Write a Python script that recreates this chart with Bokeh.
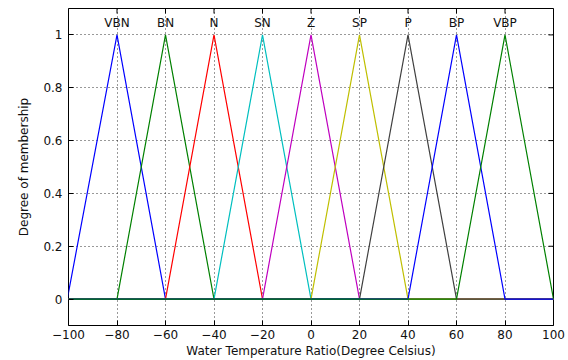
import math
from bokeh.plotting import figure
from bokeh.models import Range1d, FixedTicker, ColumnDataSource
from bokeh.embed import file_html
from bokeh.resources import INLINE
from bokeh.core.properties import value

# Membership function names and triangle parameters [left foot, peak, right foot]
mf_names = ["VBN", "BN", "N", "SN", "Z", "SP", "P", "BP", "VBP"]
mf_left = [-100.5, -80, -60, -40, -20, 0, 20, 40, 60]
mf_peak = [-80, -60, -40, -20, 0, 20, 40, 60, 80]
mf_right = [-60, -40, -20, 0, 20, 40, 60, 80, 100]
mf_colors = ["#0000FF", "#008000", "#FF0000", "#00BFBF", "#BF00BF",
             "#BFBF00", "#404040", "#0000FF", "#008000"]

x_min, x_max = -100, 100
y_min, y_max = -0.1, 1.1
x_ticks = [-100, -80, -60, -40, -20, 0, 20, 40, 60, 80, 100]
y_ticks = [0, 0.2, 0.4, 0.6, 0.8, 1]
label_y = 1.045

FONT = "DejaVu Sans"

p = figure(width=568, height=360, output_backend="svg", toolbar_location=None,
           x_range=Range1d(x_min, x_max), y_range=Range1d(y_min, y_max),
           min_border_left=68, min_border_right=15, min_border_top=8,
           min_border_bottom=34)

p.outline_line_color = "#000000"
p.outline_line_width = 1
p.background_fill_color = "white"
p.border_fill_color = "white"

for ax in (p.xaxis[0], p.yaxis[0]):
    ax.major_tick_in = 5
    ax.major_tick_out = 0
    ax.minor_tick_line_color = None
    ax.axis_line_color = None
    ax.major_tick_line_color = "#000000"
    ax.major_label_text_font = FONT
    ax.major_label_text_font_size = "12px"
    ax.major_label_text_color = "#111111"
    ax.axis_label_text_font = FONT
    ax.axis_label_text_font_size = "12px"
    ax.axis_label_text_font_style = "normal"
    ax.axis_label_text_color = "#111111"

p.xaxis[0].ticker = FixedTicker(ticks=x_ticks)
p.yaxis[0].ticker = FixedTicker(ticks=y_ticks)
p.yaxis[0].major_label_overrides = {1: "1", 0: "0"}
p.xaxis[0].axis_label = "Water Temperature Ratio(Degree Celsius)"
p.yaxis[0].axis_label = "Degree of membership"
p.xaxis[0].major_label_standoff = 4
p.xaxis[0].axis_label_standoff = 2
p.yaxis[0].major_label_standoff = 6
p.yaxis[0].axis_label_standoff = 9

for g in (p.xgrid[0], p.ygrid[0]):
    g.grid_line_color = "#000000"
    g.grid_line_dash = "1 3"
    g.grid_line_alpha = 0.8
    g.grid_line_width = 1
p.xgrid[0].ticker = FixedTicker(ticks=x_ticks)
p.ygrid[0].ticker = FixedTicker(ticks=y_ticks)

# inward tick marks on the top and right edges (half of each dash is clipped by the frame)
p.scatter(x=x_ticks, y=[y_max] * len(x_ticks), marker="dash", size=10,
          angle=math.pi / 2, line_color="#000000", line_width=1)
p.scatter(x=[x_max] * len(y_ticks), y=y_ticks, marker="dash", size=10,
          line_color="#000000", line_width=1)

# membership function curves (full universe, zero outside the triangle)
for name, a, b, c, col in zip(mf_names, mf_left, mf_peak, mf_right, mf_colors):
    xs = [min(x_min, a), a, b, c, max(x_max, c)]
    ys = [0, 0, 1, 0, 0]
    p.line(xs, ys, line_color=col, line_width=1.2)

src = ColumnDataSource(dict(x=mf_peak, y=[label_y] * len(mf_peak), t=mf_names))
p.text(x="x", y="y", text="t", source=src, text_align="center", text_baseline="middle",
       text_font=value(FONT), text_font_size="12px", text_color="#111111")

open("out.html", "w").write(file_html(p, INLINE))
